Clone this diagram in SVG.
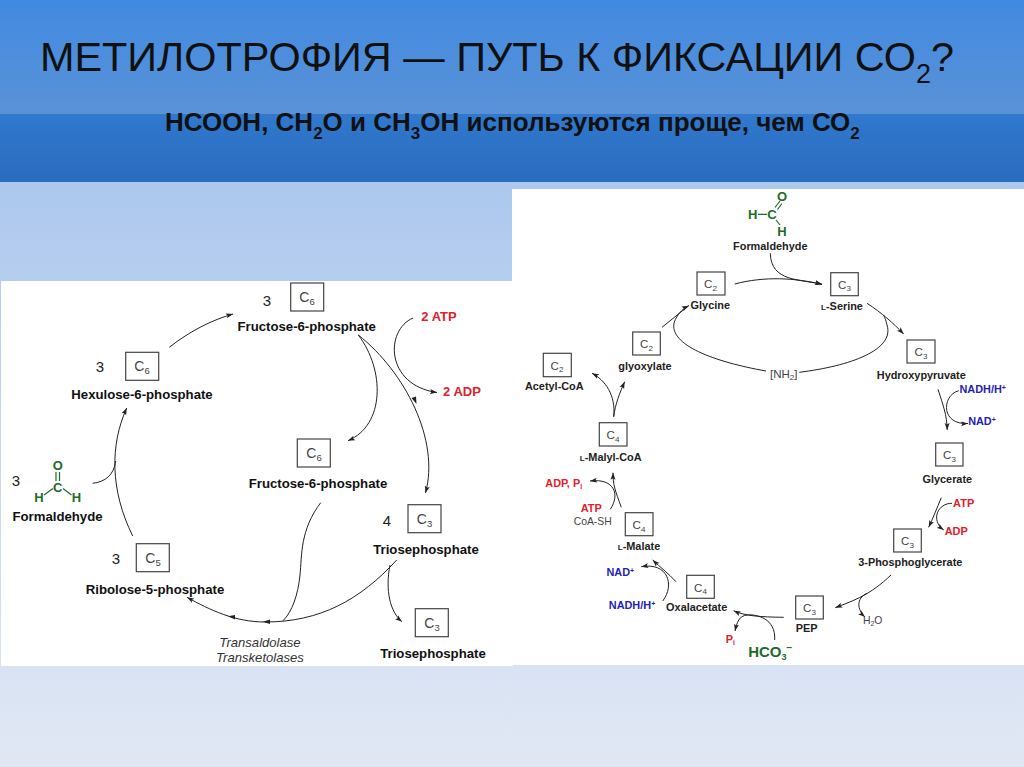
<svg xmlns="http://www.w3.org/2000/svg" width="1024" height="767" viewBox="0 0 1024 767">
<style>
text{font-family:"Liberation Sans",Arial,sans-serif;fill:#111}
.l{font-weight:700;font-size:13.2px;text-anchor:middle}
.s{font-weight:700;font-size:10.9px;text-anchor:middle;fill:#222}
.n{font-size:15px;text-anchor:middle;fill:#222}
.c{font-size:14px;text-anchor:middle;fill:#444}
.c2{font-size:11.5px;text-anchor:middle;fill:#444}
.c3{font-size:10.4px;text-anchor:middle;fill:#444}
.b{fill:#fff;stroke:#444;stroke-width:1.2}
.r{fill:#e0202c;font-weight:700;text-anchor:middle}
.u{fill:#2222b8;font-weight:700;text-anchor:middle}
.g{fill:#1f6b2a;font-weight:700;text-anchor:middle}
.e{fill:none;stroke:#222;stroke-width:1}
.a{marker-end:url(#h)}
.m{fill:#222}
.bond{stroke:#1f6b2a;stroke-width:1.2;fill:none}
.i{font-size:13.1px;font-style:italic;text-anchor:middle;fill:#333}
</style>
<defs>
<linearGradient id="t1" x1="0" y1="0" x2="0" y2="1"><stop offset="0" stop-color="#418ae2"/><stop offset="1" stop-color="#5a92d6"/></linearGradient>
<linearGradient id="t2" x1="0" y1="0" x2="0" y2="1"><stop offset="0" stop-color="#3079ce"/><stop offset="1" stop-color="#2a6cbe"/></linearGradient>
<linearGradient id="t3" x1="0" y1="0" x2="0" y2="1"><stop offset="0" stop-color="#adc8ee"/><stop offset="1" stop-color="#e1e8f4"/></linearGradient>
<marker id="h" markerUnits="userSpaceOnUse" markerWidth="8" markerHeight="6" refX="7" refY="3" orient="auto"><path d="M0,0.5L7,3L0,5.5L1.5,3Z" fill="#222"/></marker>
</defs>
<g id="background">
<rect width="1024" height="114" fill="url(#t1)"/>
<rect y="114" width="1024" height="68" fill="url(#t2)"/>
<rect y="182" width="1024" height="585" fill="url(#t3)"/>
<rect x="1" y="281" width="512" height="385" fill="#fff"/>
<rect x="512" y="189" width="512" height="476" fill="#fff"/>
</g>
<g id="title">
<text x="40" y="71" font-size="41.4" fill="#0a0a14">МЕТИЛОТРОФИЯ — ПУТЬ К ФИКСАЦИИ СО<tspan font-size="27" dy="12">2</tspan><tspan dy="-12">?</tspan></text>
<text x="165" y="131" font-size="26" font-weight="700" fill="#0a0a14">НСООН, СН<tspan font-size="17" dy="8">2</tspan><tspan dy="-8">О и СН</tspan><tspan font-size="17" dy="8">3</tspan><tspan dy="-8">ОН используются проще, чем СО</tspan><tspan font-size="17" dy="8">2</tspan></text>
</g>
<g id="connectors">
<path class="e a" d="M169.3,347.3C190,331 212,320 233,314"/>
<path class="e a" d="M132.7,536C110,490 110,445 126.7,408"/>
<path class="e" d="M92.7,483.3C105,482 114,475 115.7,461"/>
<path class="e a" d="M358.3,335C385,370 385,425 348,440.7"/>
<path class="e a" d="M358.3,335C405,372 440,440 425.5,493"/>
<path class="e a" d="M413,318C385,330 385,385 437,392.5"/>
<path class="e a" d="M396.7,560C360,600 320,622 265,622C235,622 210,610 187,597.3"/>
<path class="e" d="M320.7,502.7C300,530 302,555 300,575C298,595 292,612 283,620.7"/>
<path class="e a" d="M390,565C385,590 390,612 402,621.7"/>
<path class="m" d="M263,621.7L270,619.5V624Z"/>
<path class="m" d="M228,616.3L235,615V619.5Z"/>
<path class="m" d="M416.5,404L411.5,398L416,396.5Z"/>
<path class="e a" d="M770.3,253.3C771,282 800,279 822,284.3"/>
<path class="e a" d="M734.7,284C765,276 795,278 822,284.3"/>
<path class="e a" d="M867,303.3C882,313 893,323 903.7,334"/>
<path class="e a" d="M766,371C715,362 668,345 674.3,322C677,315 682,309 688.7,305.7"/>
<path class="e" d="M799.3,372.3C850,366 895,350 887,325C886,320 884,316 883.7,315"/>
<path class="e" d="M662,327.3L688.7,305.7"/>
<path class="e a" d="M613.7,416.7C615,405 620,392 624.7,381.7"/>
<path class="e a" d="M613.7,416.7C616,395 605,380 592,373.3"/>
<path class="e a" d="M938,389.3C943,405 947,415 947.2,430"/>
<path class="e a" d="M958.7,390.7C942,395 940,425 968,423.5"/>
<path class="e a" d="M941.3,497.7C937,508 933,518 928.7,527.3"/>
<path class="e a" d="M952,503.3C938,503 930,520 943.7,530"/>
<path class="e a" d="M891,575C870,595 855,600 835.3,607.7"/>
<path class="e a" d="M867,593.3C856,598 857,610 865,617"/>
<path class="e a" d="M783.7,617.3C760,617 745,616 733.7,610.7"/>
<path class="e a" d="M774.7,640C776,618 756,614 747,615C739,616 737,622 735,631"/>
<path class="e a" d="M676,581.7C668,573 660,567 652.7,560"/>
<path class="e a" d="M662.7,601C675,585 668,562 641.3,566.7"/>
<path class="e a" d="M621.3,507.3C615,490 613,485 613,472.7"/>
<path class="e a" d="M610.3,509.3C620,495 615,478 590,481"/>
</g>
<g id="node-f6p-top"><text class="n" x="267" y="305.5">3</text><rect class="b" x="290.7" y="283" width="33" height="28"/><text class="c" x="307" y="302">C<tspan font-size="9.5" dy="3">6</tspan></text><text class="l" x="306.7" y="330.5">Fructose-6-phosphate</text></g>
<g id="node-hu6p"><text class="n" x="100" y="371.5">3</text><rect class="b" x="125.7" y="352.3" width="33" height="28"/><text class="c" x="142" y="371">C<tspan font-size="9.5" dy="3">6</tspan></text><text class="l" x="142" y="399">Hexulose-6-phosphate</text></g>
<g id="node-f6p-mid"><rect class="b" x="297.3" y="439" width="33" height="28"/><text class="c" x="314" y="458">C<tspan font-size="9.5" dy="3">6</tspan></text><text class="l" x="318" y="488">Fructose-6-phosphate</text></g>
<g id="node-tp4"><text class="n" x="387" y="525.5">4</text><rect class="b" x="408" y="504.7" width="33" height="28"/><text class="c" x="424.5" y="523.5">C<tspan font-size="9.5" dy="3">3</tspan></text><text class="l" x="426" y="554">Triosephosphate</text></g>
<g id="node-r5p"><text class="n" x="116" y="563.5">3</text><rect class="b" x="136.3" y="543.7" width="33" height="28"/><text class="c" x="153" y="562.5">C<tspan font-size="9.5" dy="3">5</tspan></text><text class="l" x="155" y="593.5">Ribolose-5-phosphate</text></g>
<g id="node-tp"><rect class="b" x="415.3" y="608.7" width="33" height="28"/><text class="c" x="432" y="627.5">C<tspan font-size="9.5" dy="3">3</tspan></text><text class="l" x="433" y="658">Triosephosphate</text></g>
<g id="node-hcho-left"><text class="n" x="16" y="485.5">3</text><text class="g" font-size="13" x="57.7" y="470">O</text><text class="g" font-size="13" x="57.7" y="491.5">C</text><text class="g" font-size="13" x="39" y="502">H</text><text class="g" font-size="13" x="76.5" y="502">H</text><path class="bond" d="M56,472V481M59.5,472V481M44,495L53,488.5M63,488.5L71.5,495"/><text class="l" x="57.5" y="520.5">Formaldehyde</text></g>
<g id="enzymes"><text class="i" x="260" y="646.5">Transaldolase</text><text class="i" x="260" y="661.5">Transketolases</text></g>
<g id="cofactors-left"><text class="r" font-size="13" x="439" y="320.5">2 ATP</text><text class="r" font-size="13" x="462" y="396">2 ADP</text></g>
<g id="node-hcho-right"><text class="g" font-size="13" x="782" y="200.5">O</text><text class="g" font-size="13" x="772" y="219">C</text><text class="g" font-size="13" x="752.7" y="219">H</text><text class="g" font-size="13" x="782" y="235.5">H</text><path class="bond" d="M758,214.3H767M775,207.5L780,201M777.5,209.5L782,203.5M776,220L780,225"/><text class="s" x="770.3" y="249.5">Formaldehyde</text></g>
<g id="node-glycine"><rect class="b" x="697" y="272" width="28" height="23"/><text class="c2" x="710.5" y="288">C<tspan font-size="8" dy="2.5">2</tspan></text><text class="s" x="710.3" y="309">Glycine</text></g>
<g id="node-serine"><rect class="b" x="830.7" y="272.7" width="27.6" height="23"/><text class="c2" x="844.5" y="288.5">C<tspan font-size="8" dy="2.5">3</tspan></text><text class="s" x="842" y="309.5"><tspan font-size="8">L</tspan>-Serine</text></g>
<g id="node-hydroxypyruvate"><rect class="b" x="907" y="340" width="28" height="23"/><text class="c2" x="921" y="356">C<tspan font-size="8" dy="2.5">3</tspan></text><text class="s" x="921.3" y="379">Hydroxypyruvate</text></g>
<g id="node-glyoxylate"><rect class="b" x="632.7" y="332" width="27.6" height="23"/><text class="c2" x="646.5" y="348">C<tspan font-size="8" dy="2.5">2</tspan></text><text class="s" x="645" y="369.5">glyoxylate</text></g>
<g id="node-acetyl"><rect class="b" x="543.3" y="353.3" width="28" height="23.4"/><text class="c2" x="557" y="369.5">C<tspan font-size="8" dy="2.5">2</tspan></text><text class="s" x="554.3" y="390">Acetyl-CoA</text></g>
<g id="node-malyl"><rect class="b" x="599.3" y="422.7" width="27.7" height="23.3"/><text class="c2" x="613" y="439">C<tspan font-size="8" dy="2.5">4</tspan></text><text class="s" x="610.7" y="461"><tspan font-size="8">L</tspan>-Malyl-CoA</text></g>
<g id="node-malate"><rect class="b" x="625.3" y="512.7" width="27.7" height="23"/><text class="c2" x="639" y="529">C<tspan font-size="8" dy="2.5">4</tspan></text><text class="s" x="639" y="550"><tspan font-size="8">L</tspan>-Malate</text></g>
<g id="node-oxalacetate"><rect class="b" x="686.7" y="575.3" width="27.6" height="23"/><text class="c2" x="700.5" y="591.5">C<tspan font-size="8" dy="2.5">4</tspan></text><text class="s" x="696.7" y="610.5">Oxalacetate</text></g>
<g id="node-pep"><rect class="b" x="795.7" y="596" width="27.6" height="23"/><text class="c2" x="809.5" y="612">C<tspan font-size="8" dy="2.5">3</tspan></text><text class="s" x="806.7" y="631.5">PEP</text></g>
<g id="node-3pg"><rect class="b" x="893.7" y="529" width="27.6" height="23"/><text class="c2" x="907.5" y="545">C<tspan font-size="8" dy="2.5">3</tspan></text><text class="s" x="910.3" y="565.5">3-Phosphoglycerate</text></g>
<g id="node-glycerate"><rect class="b" x="935.7" y="443" width="27.3" height="23"/><text class="c2" x="949.5" y="459">C<tspan font-size="8" dy="2.5">3</tspan></text><text class="s" x="947.3" y="483">Glycerate</text></g>
<g id="nh2"><text class="c2" x="783.7" y="377.5">[NH<tspan font-size="8" dy="2">2</tspan><tspan dy="-2">]</tspan></text></g>
<g id="cofactors-right">
<text class="u" font-size="10.9" x="982.7" y="393">NADH/H<tspan font-size="7" dy="-3">+</tspan></text>
<text class="u" font-size="10.9" x="982" y="425">NAD<tspan font-size="7" dy="-3">+</tspan></text>
<text class="r" font-size="11" x="963.7" y="507">ATP</text>
<text class="r" font-size="11" x="956.3" y="535">ADP</text>
<text class="c3" x="872.7" y="624">H<tspan font-size="7" dy="2">2</tspan><tspan dy="-2">O</tspan></text>
<text class="g" font-size="15" x="770.3" y="657">HCO<tspan font-size="9" dy="3">3</tspan><tspan font-size="10" dy="-9">−</tspan></text>
<text class="r" font-size="10.9" x="730.3" y="643">P<tspan font-size="7" dy="2">i</tspan></text>
<text class="u" font-size="10.9" x="632" y="609">NADH/H<tspan font-size="7" dy="-3">+</tspan></text>
<text class="u" font-size="10.9" x="620.3" y="576">NAD<tspan font-size="7" dy="-3">+</tspan></text>
<text class="r" font-size="11" x="591.3" y="511.5">ATP</text>
<text class="c3" x="592.7" y="524.5">CoA-SH</text>
<text class="r" font-size="10.9" x="563.7" y="487">ADP, P<tspan font-size="7" dy="2">i</tspan></text>
</g>
</svg>
